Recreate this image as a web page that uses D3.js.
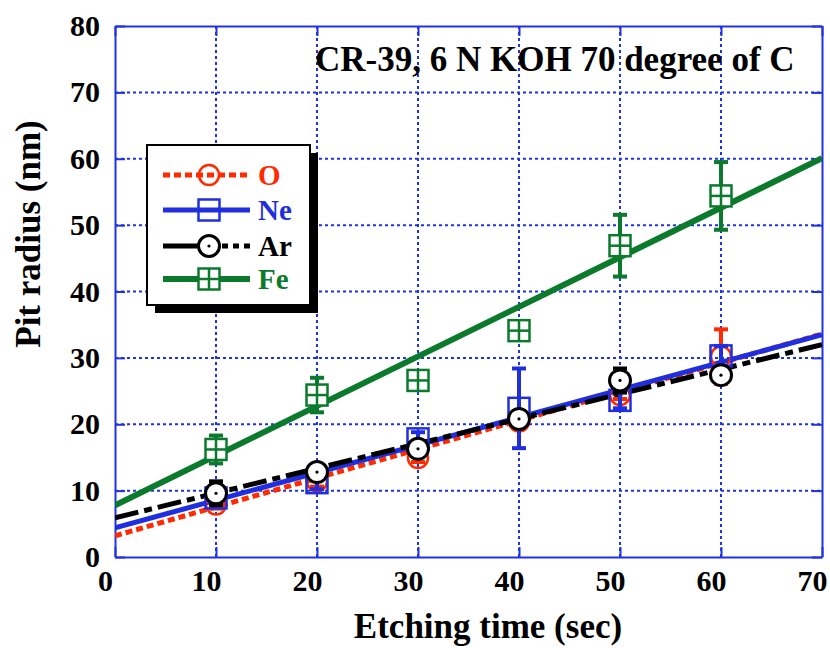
<!DOCTYPE html>
<html><head><meta charset="utf-8">
<script src="https://cdn.jsdelivr.net/npm/d3@7"></script>
<style>body{margin:0;background:#fff}svg{display:block}text{font-family:"Liberation Serif","Times New Roman",serif;font-weight:bold}</style>
</head><body><svg id="c" width="830" height="648"></svg>
<script>
const times = [10, 20, 30, 40, 50, 60];
const xTicks = [0, 10, 20, 30, 40, 50, 60, 70];
const yTicks = [0, 10, 20, 30, 40, 50, 60, 70, 80];
const seriesNames = ["O", "Ne", "Ar", "Fe"];
const O_vals  = [7.9, 11.4, 14.9, 20.4, 24.4, 30.2];
const O_err   = [0.6, 0.8, 0.6, 0.8, 0.6, 4.1];
const Ne_vals = [8.9, 11.2, 17.8, 22.4, 23.6, 30.3];
const Ne_err  = [1.0, 1.0, 1.0, 6.0, 1.2, 1.5];
const Ar_vals = [9.6, 12.8, 16.3, 20.8, 26.6, 27.4];
const Ar_err  = [1.8, 0.8, 0.8, 0.8, 1.8, 0.8];
const Fe_vals = [16.2, 24.4, 26.6, 34.1, 46.9, 54.4];
const Fe_err  = [2.1, 2.6, 0.6, 0.6, 4.65, 5.1];
// fitted lines: [value at t=0, value at t=70]
const O_fit  = [3.2, 33.6];
const Ne_fit = [4.4, 33.5];
const Ar_fit = [5.9, 32.0];
const Fe_fit = [7.8, 60.1];
const title = "CR-39, 6 N KOH 70 degree of C";
const xTitle = "Etching time (sec)";
const yTitle = "Pit radius (nm)";

const svg = d3.select("#c");
const x = d3.scaleLinear().domain([0, 70]).range([115, 822]);
const y = d3.scaleLinear().domain([0, 80]).range([557, 26]);
const BLUE = "#1f33e6";

// grid
const g = svg.append("g");
g.selectAll(".gx").data(xTicks.slice(1, -1)).join("line")
  .attr("x1", d => x(d)).attr("x2", d => x(d)).attr("y1", y(0)).attr("y2", y(80))
  .attr("stroke", BLUE).attr("stroke-width", 2).attr("stroke-dasharray", "3,3");
g.selectAll(".gy").data(yTicks.slice(1, -1)).join("line")
  .attr("y1", d => y(d)).attr("y2", d => y(d)).attr("x1", x(0)).attr("x2", x(70))
  .attr("stroke", BLUE).attr("stroke-width", 2).attr("stroke-dasharray", "3,3");

// axes with inward ticks
const ax = svg.append("g").attr("class", "axes");
const addAxis = (gen, tr) => {
  const a = ax.append("g").attr("transform", tr).call(gen);
  a.selectAll("path,line").attr("stroke", BLUE).attr("stroke-width", 2);
  return a;
};
const axB = addAxis(d3.axisBottom(x).tickValues(xTicks).tickSize(-10).tickSizeOuter(0).tickPadding(12), `translate(0,${y(0)})`);
const axL = addAxis(d3.axisLeft(y).tickValues(yTicks).tickSize(-10).tickSizeOuter(0).tickPadding(15), `translate(${x(0)},0)`);
const axT = addAxis(d3.axisTop(x).tickValues(xTicks).tickSize(-10).tickSizeOuter(0).tickFormat(""), `translate(0,${y(80)})`);
const axR = addAxis(d3.axisRight(y).tickValues(yTicks).tickSize(-10).tickSizeOuter(0).tickFormat(""), `translate(${x(70)},0)`);
ax.selectAll("text").attr("fill", "#000").style("font-size", "30px")
  .style("font-family", '"Liberation Serif",serif').style("font-weight", "bold");
axB.selectAll("text").attr("dy", "0.72em").attr("dx", -10);

svg.append("clipPath").attr("id", "pa").append("rect")
  .attr("x", x(0)).attr("y", y(80)).attr("width", x(70) - x(0)).attr("height", y(0) - y(80));

const series = [
  {name: "O", vals: O_vals, err: O_err, fit: O_fit, color: "#ff2a00", dash: "7,4", w: 5, marker: "circle"},
  {name: "Ne", vals: Ne_vals, err: Ne_err, fit: Ne_fit, color: "#1f2fe0", dash: null, w: 5, marker: "square"},
  {name: "Ar", vals: Ar_vals, err: Ar_err, fit: Ar_fit, color: "#000", dash: "24,6,8,6", w: 5, marker: "dotcircle"},
  {name: "Fe", vals: Fe_vals, err: Fe_err, fit: Fe_fit, color: "#0b7a2c", dash: null, w: 6, marker: "gridsquare"}
];

const lineGen = d3.line().x(d => x(d[0])).y(d => y(d[1]));
const plot = svg.append("g").attr("clip-path", "url(#pa)");
series.forEach(s => {
  plot.append("path").datum([[0, s.fit[0]], [70, s.fit[1]]]).attr("d", lineGen)
    .attr("fill", "none").attr("stroke", s.color).attr("stroke-width", s.w)
    .attr("stroke-dasharray", s.dash);
});

function drawMarker(sel, type, color) {
  if (type === "circle") {
    sel.append("circle").attr("r", 10).attr("fill", "none").attr("stroke", color).attr("stroke-width", 2.5);
  } else if (type === "square") {
    sel.append("rect").attr("x", -10.5).attr("y", -10.5).attr("width", 21).attr("height", 21)
      .attr("fill", "none").attr("stroke", color).attr("stroke-width", 2.5);
  } else if (type === "dotcircle") {
    sel.append("circle").attr("r", 10.5).attr("fill", "#fff").attr("stroke", color).attr("stroke-width", 3);
    sel.append("circle").attr("r", 1.6).attr("fill", color);
  } else if (type === "gridsquare") {
    sel.append("rect").attr("x", -10.5).attr("y", -10.5).attr("width", 21).attr("height", 21)
      .attr("fill", "#fff").attr("stroke", color).attr("stroke-width", 2.5);
    sel.append("line").attr("x1", -10.5).attr("x2", 10.5).attr("stroke", color).attr("stroke-width", 2.5);
    sel.append("line").attr("y1", -10.5).attr("y2", 10.5).attr("stroke", color).attr("stroke-width", 2.5);
  }
}

series.forEach(s => {
  const gs = plot.append("g");
  times.forEach((t, i) => {
    const v = s.vals[i], e = s.err[i];
    const eg = gs.append("g").attr("stroke", s.color).attr("stroke-width", 4);
    eg.append("line").attr("x1", x(t)).attr("x2", x(t)).attr("y1", y(v - e)).attr("y2", y(v + e));
    [v - e, v + e].forEach(c => eg.append("line").attr("x1", x(t) - 7).attr("x2", x(t) + 7).attr("y1", y(c)).attr("y2", y(c)));
    const m = gs.append("g").attr("transform", `translate(${x(t)},${y(v)})`);
    drawMarker(m, s.marker, s.color);
  });
});

// legend
const lg = svg.append("g");
lg.append("rect").attr("x", 155).attr("y", 153).attr("width", 163).attr("height", 160).attr("fill", "#000");
lg.append("rect").attr("x", 147).attr("y", 145).attr("width", 163).attr("height", 160).attr("fill", "#fff").attr("stroke", "#000").attr("stroke-width", 2);
const legY = [175, 210, 246, 279];
series.forEach((s, i) => {
  const yy = legY[i];
  const row = lg.append("g");
  if (s.name === "Ar") {
    row.append("line").attr("x1", 163).attr("x2", 200).attr("y1", yy).attr("y2", yy).attr("stroke", s.color).attr("stroke-width", s.w);
    row.append("line").attr("x1", 222).attr("x2", 250).attr("y1", yy).attr("y2", yy).attr("stroke", s.color).attr("stroke-width", s.w).attr("stroke-dasharray", "6,5");
  } else {
    row.append("line").attr("x1", 163).attr("x2", 250).attr("y1", yy).attr("y2", yy).attr("stroke", s.color).attr("stroke-width", s.w).attr("stroke-dasharray", s.dash);
  }
  const m = row.append("g").attr("transform", `translate(209,${yy})`);
  drawMarker(m, s.marker, s.color);
  row.append("text").attr("x", 258).attr("y", yy).attr("dy", "0.35em").attr("fill", s.color)
    .style("font-size", "29px").text(s.name);
});

svg.append("text").attr("x", 315).attr("y", 71).style("font-size", "35px").attr("fill", "#000").text(title);
svg.append("text").attr("x", 488).attr("y", 638).attr("text-anchor", "middle").style("font-size", "35px").attr("fill", "#000").text(xTitle);
svg.append("text").attr("transform", "translate(40,234) rotate(-90)").attr("text-anchor", "middle").style("font-size", "35px").attr("fill", "#000").text(yTitle);
</script></body></html>
